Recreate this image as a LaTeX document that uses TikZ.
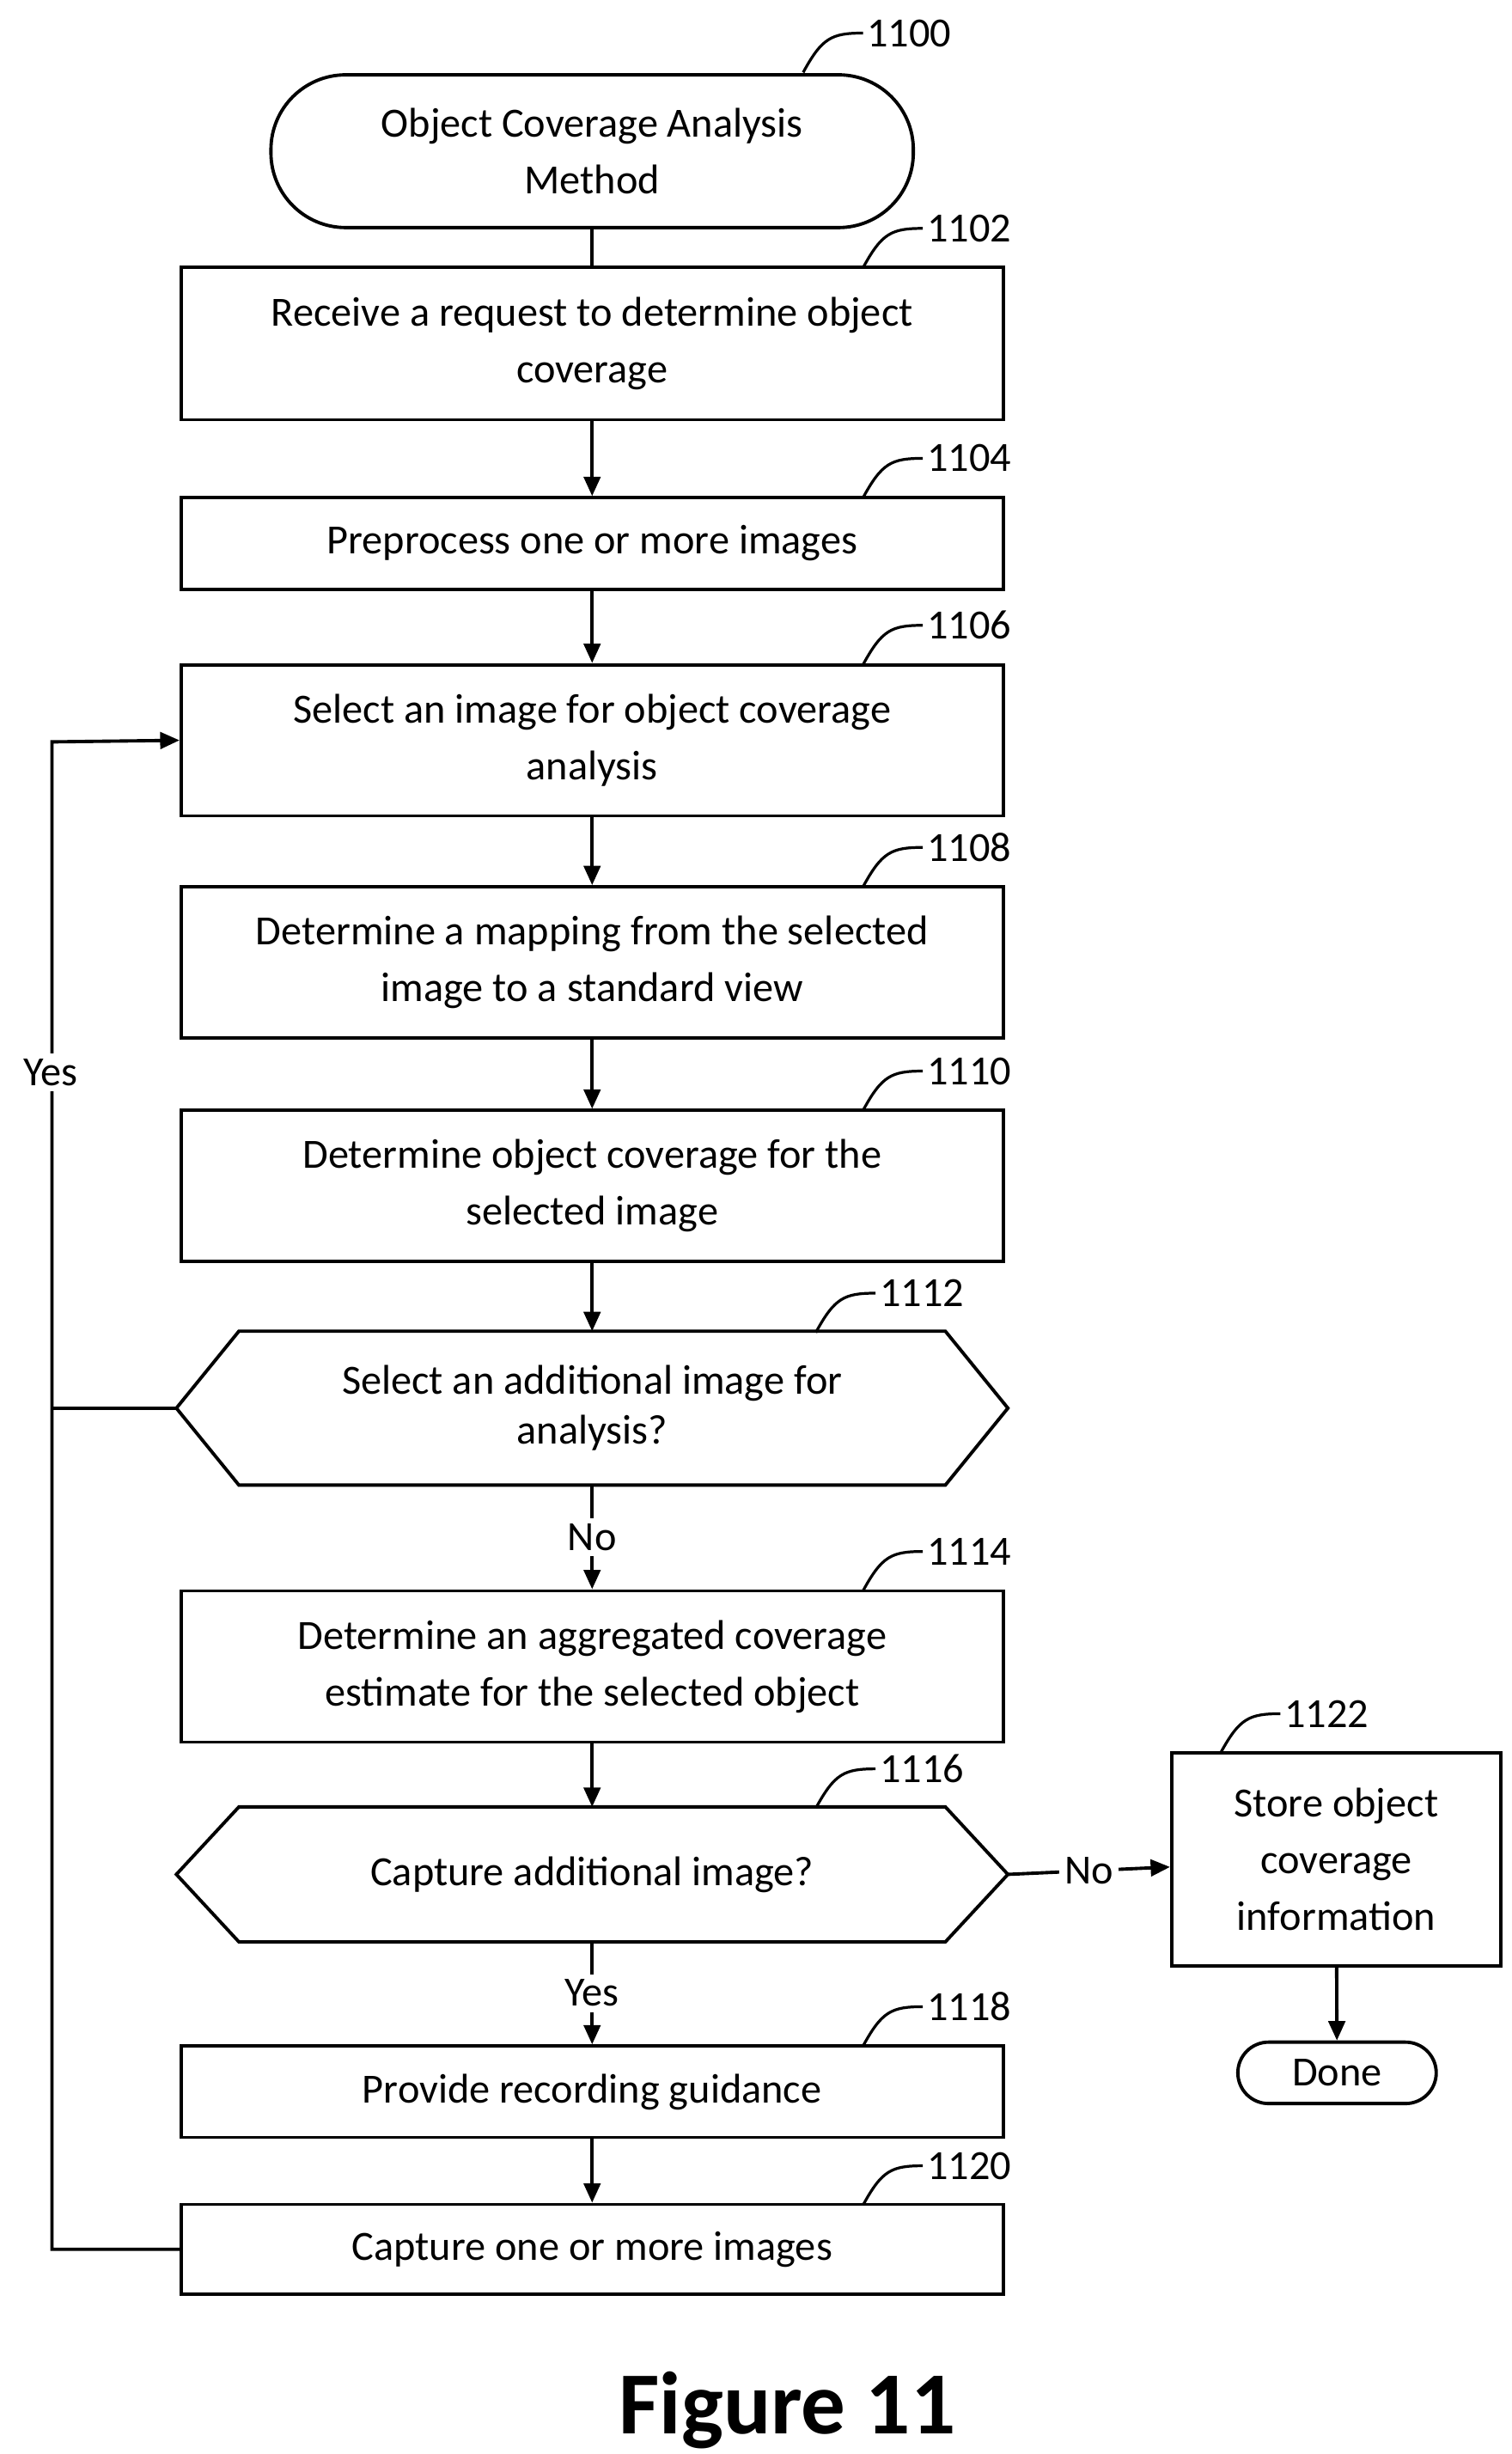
\documentclass[tikz,border=0pt]{standalone}
\usepackage{fontspec}
\setmainfont{Carlito}
\usetikzlibrary{arrows.meta}
\begin{document}
\begin{tikzpicture}[x=0.02cm,y=-0.02cm,
  box/.style={draw,line width=1.2pt,minimum width=10.44cm,align=center,font=\fontsize{15}{20.5}\selectfont},
  term/.style={draw,line width=1.2pt,rounded corners=0.95cm,align=center,font=\fontsize{15}{20.5}\selectfont},
  lbl/.style={anchor=west,font=\fontsize{15}{18}\selectfont,inner sep=1pt},
  txt/.style={font=\fontsize{15}{18}\selectfont},
  arr/.style={line width=1.2pt,-{Triangle[length=7pt,width=6pt]}},
  ln/.style={line width=1.2pt}]
\useasboundingbox (0,0) rectangle (960,1558);
% leader curve from (x,y) to a label
\newcommand{\refno}[3]{\draw[line width=1pt] (#1,#2) .. controls (#1+12,#2-22) and (#1+18,#2-25) .. (#1+38,#2-25) node[lbl] {#3};}

% Start
\node[term,minimum width=8.16cm,minimum height=1.94cm] (start) at (376,96) {Object Coverage Analysis\\Method};
\refno{510}{46}{1100}

% Process boxes
\node[box,minimum height=1.94cm] (recv) at (376,218) {Receive a request to determine object\\coverage};
\refno{548}{170}{1102}
\node[box,minimum height=1.16cm] (prep) at (376,345) {Preprocess one or more images};
\refno{548}{316}{1104}
\node[box,minimum height=1.92cm] (sel) at (376,470) {Select an image for object coverage\\analysis};
\refno{548}{422}{1106}
\node[box,minimum height=1.92cm] (map) at (376,611) {Determine a mapping from the selected\\image to a standard view};
\refno{548}{563}{1108}
\node[box,minimum height=1.92cm] (cov) at (376,753) {Determine object coverage for the\\selected image};
\refno{548}{705}{1110}

% Decision 1112
\node[txt,align=center,minimum width=8.96cm,minimum height=1.94cm] (more) at (376,894) {Select an additional image for\\analysis?};
\draw[ln] (more.north west) -- (more.north east) -- (640,894) -- (more.south east) -- (more.south west) -- (112,894) -- cycle;
\coordinate (moreW) at (112,894);
\coordinate (moreE) at (640,894);
\refno{518}{846}{1112}

\node[box,minimum height=1.92cm] (agg) at (376,1058) {Determine an aggregated coverage\\estimate for the selected object};
\refno{548}{1010}{1114}

% Decision 1116
\node[txt,minimum width=8.96cm,minimum height=1.7cm] (cap) at (376,1190) {Capture additional image?};
\draw[ln] (cap.north west) -- (cap.north east) -- (640,1190) -- (cap.south east) -- (cap.south west) -- (112,1190) -- cycle;
\coordinate (capE) at (640,1190);
\refno{518}{1148}{1116}

\node[box,minimum height=1.16cm] (guide) at (376,1328) {Provide recording guidance};
\refno{548}{1299}{1118}
\node[box,minimum height=1.14cm] (shot) at (376,1428) {Capture one or more images};
\refno{548}{1400}{1120}

% Store and done
\node[box,minimum width=4.18cm,minimum height=2.7cm] (store) at (848.5,1180.5) {Store object\\coverage\\information};
\refno{775}{1113}{1122}
\node[term,rounded corners=0.39cm,minimum width=2.52cm,minimum height=0.78cm,inner sep=0pt] (done) at (849,1316) {Done};

% Connectors
\draw[ln] (start) -- (recv);
\draw[arr] (recv) -- (prep);
\draw[arr] (prep) -- (sel);
\draw[arr] (sel) -- (map);
\draw[arr] (map) -- (cov);
\draw[arr] (cov) -- (more);
\draw[arr] (more) -- node[txt,fill=white,inner sep=2pt] {No} (agg);
\draw[arr] (agg) -- (cap);
\draw[arr] (cap) -- node[txt,fill=white,inner sep=2pt] {Yes} (guide);
\draw[arr] (guide) -- (shot);
\draw[arr] (capE) -- node[txt,fill=white,inner sep=2pt] {No} (store);
\draw[arr] (store) -- (done);
\coordinate (loopB) at (33,1428);
\coordinate (loopT) at (33,471);
\draw[arr] (shot.west) -- (loopB) -- (loopT) -- (sel.west);
\draw[ln] (moreW) -- (33,894);
\node[txt,fill=white,inner sep=2pt] at (32,681) {Yes};

\node[font=\bfseries\fontsize{32}{36}\selectfont] at (500,1530) {Figure 11};
\end{tikzpicture}
\end{document}
